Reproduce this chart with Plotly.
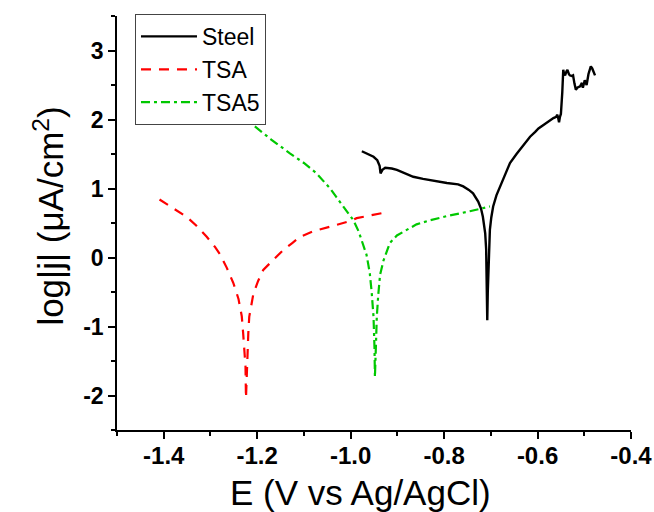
import plotly.graph_objects as go

# ---- data ----
steel_E = [-0.976, -0.960, -0.951, -0.943, -0.938, -0.936, -0.932, -0.926, -0.912, -0.901,
           -0.890, -0.866, -0.845, -0.830, -0.807, -0.794, -0.770, -0.759, -0.747, -0.738,
           -0.727, -0.721, -0.717, -0.714, -0.712, -0.710, -0.709, -0.708, -0.7076,
           -0.7065, -0.705, -0.704, -0.702, -0.699, -0.695, -0.688, -0.680, -0.670,
           -0.659, -0.645, -0.630, -0.616, -0.605, -0.598, -0.585, -0.575, -0.566,
           -0.560, -0.558, -0.556, -0.554, -0.552, -0.550, -0.547, -0.545, -0.543,
           -0.541, -0.538, -0.536, -0.533, -0.531, -0.527, -0.524, -0.521, -0.518,
           -0.515, -0.513, -0.509, -0.505, -0.503, -0.499, -0.495, -0.491, -0.486,
           -0.483, -0.480, -0.477]
steel_logj = [1.54, 1.49, 1.46, 1.41, 1.33, 1.22, 1.27, 1.30, 1.29, 1.27,
              1.24, 1.17, 1.14, 1.12, 1.10, 1.08, 1.06, 1.03, 0.98, 0.93,
              0.81, 0.71, 0.59, 0.47, 0.35, 0.12, -0.20, -0.55, -0.91,
              -0.50, -0.10, 0.15, 0.40, 0.58, 0.74, 0.90, 1.03, 1.18,
              1.37, 1.50, 1.63, 1.75, 1.82, 1.87, 1.93, 1.98, 2.02,
              2.04, 2.07, 2.03, 1.96, 2.04, 2.08, 2.40, 2.72, 2.66,
              2.64, 2.70, 2.72, 2.66, 2.64, 2.63, 2.64, 2.52, 2.43,
              2.46, 2.47, 2.48, 2.53, 2.46, 2.57, 2.50, 2.66, 2.77,
              2.74, 2.70, 2.64]

tsa_E = [-1.409, -1.380, -1.351, -1.330, -1.308, -1.290, -1.280, -1.265, -1.251, -1.240,
         -1.233, -1.230, -1.227, -1.225, -1.224, -1.222, -1.221, -1.219, -1.217, -1.213,
         -1.208, -1.198, -1.187, -1.165, -1.144, -1.125, -1.108, -1.080, -1.044, -1.030,
         -1.000, -0.987, -0.960, -0.928]
tsa_logj = [0.84, 0.72, 0.59, 0.46, 0.30, 0.15, 0.05, -0.15, -0.37, -0.60,
            -0.85, -1.10, -1.35, -1.58, -2.04, -1.60, -1.34, -1.10, -0.86, -0.68,
            -0.52, -0.34, -0.18, -0.03, 0.11, 0.21, 0.30, 0.38, 0.45, 0.47,
            0.53, 0.57, 0.61, 0.65]

tsa5_E = [-1.205, -1.170, -1.130, -1.100, -1.073, -1.044, -1.030, -1.016, -0.994, -0.983,
          -0.973, -0.966, -0.962, -0.959, -0.955, -0.951, -0.949, -0.948, -0.946, -0.944,
          -0.941, -0.937, -0.930, -0.923, -0.916, -0.901, -0.873, -0.859, -0.830, -0.794,
          -0.745, -0.702]
tsa5_logj = [1.90, 1.71, 1.51, 1.37, 1.22, 1.00, 0.87, 0.74, 0.54, 0.38,
             0.16, 0.04, -0.11, -0.23, -0.50, -0.86, -1.30, -1.73, -1.30, -0.86,
             -0.55, -0.25, -0.05, 0.08, 0.21, 0.32, 0.42, 0.48, 0.54, 0.60,
             0.67, 0.74]

x_tickvals = [-1.4, -1.2, -1.0, -0.8, -0.6, -0.4]
x_ticktext = ["-1.4", "-1.2", "-1.0", "-0.8", "-0.6", "-0.4"]
y_tickvals = [-2, -1, 0, 1, 2, 3]
y_ticktext = ["-2", "-1", "0", "1", "2", "3"]

FONT = "Liberation Sans"

fig = go.Figure()
fig.add_trace(go.Scatter(x=steel_E, y=steel_logj, mode="lines", name="Steel",
                         line=dict(color="black", width=2.4)))
fig.add_trace(go.Scatter(x=tsa_E, y=tsa_logj, mode="lines", name="TSA",
                         line=dict(color="#FF0000", width=2.2, dash="10px,8px")))
fig.add_trace(go.Scatter(x=tsa5_E, y=tsa5_logj, mode="lines", name="TSA5",
                         line=dict(color="#00C800", width=2.2, dash="9px,4px,3px,4px")))

fig.update_layout(
    width=654, height=512,
    margin=dict(l=117, r=23, t=16, b=82, autoexpand=False),
    paper_bgcolor="white", plot_bgcolor="white",
    font=dict(family=FONT, color="black", size=14),
    showlegend=True,
    xaxis=dict(range=[-1.5, -0.4], tickmode="array", tickvals=x_tickvals,
               ticktext=[f"<b>{t}</b>" for t in x_ticktext], ticklabelstandoff=-4,
               tickfont=dict(family=FONT, size=24, color="black"),
               showline=True, linecolor="black", linewidth=1.6,
               showgrid=False, zeroline=False, ticks="outside", ticklen=7,
               tickwidth=1.5, tickcolor="black",
               minor=dict(ticks="outside", ticklen=4, tickwidth=1.5, tickcolor="black",
                          dtick=0.1, tick0=-1.5)),
    yaxis=dict(range=[-2.5, 3.5], tickmode="array", tickvals=y_tickvals,
               ticktext=[f"<b>{t}</b>" for t in y_ticktext],
               tickfont=dict(family=FONT, size=23, color="black"),
               showline=True, linecolor="black", linewidth=1.6,
               showgrid=False, zeroline=False, ticks="outside", ticklen=7,
               tickwidth=1.5, tickcolor="black",
               minor=dict(ticks="outside", ticklen=4, tickwidth=1.5, tickcolor="black",
                          dtick=0.5, tick0=-2.5)),
    legend=dict(x=0.035, y=1.005, xanchor="left", yanchor="top",
                bgcolor="white", bordercolor="#444444", borderwidth=1,
                font=dict(family=FONT, size=23, color="black"),
                itemwidth=56, tracegroupgap=0),
    annotations=[
        dict(text="E (V vs Ag/AgCl)", xref="paper", yref="paper",
             x=0.4747, y=-0.150, xanchor="center", yanchor="middle",
             showarrow=False, font=dict(family=FONT, size=35, color="black")),
        dict(text="log|j| (μA/cm<sup>2</sup>)", xref="paper", yref="paper",
             x=-0.134, y=0.5157, xanchor="center", yanchor="middle", textangle=-90,
             showarrow=False, font=dict(family=FONT, size=35, color="black")),
    ],
)

fig.write_html("out.html")
